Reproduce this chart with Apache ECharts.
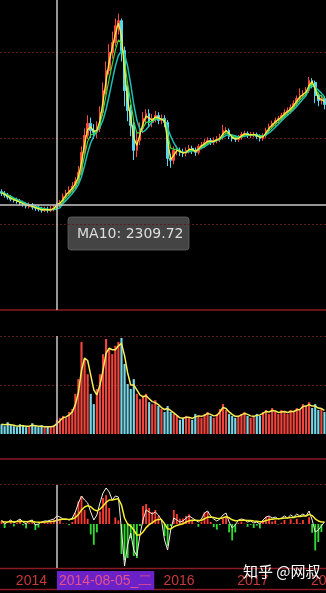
<!DOCTYPE html>
<html>
<head>
<meta charset="utf-8">
<script src="https://cdn.jsdelivr.net/npm/echarts@6.0.0/dist/echarts.min.js"></script>
<style>
  html, body { margin: 0; padding: 0; background: #000; }
  #kline { width: 326px; height: 593px; }
</style>
</head>
<body>
<div id="kline"></div>
<script>
const categories = [
  '2013-11-01','2013-11-16','2013-12-01','2013-12-16',
  '2014-01-01','2014-01-16','2014-02-01','2014-02-16','2014-03-01','2014-03-16','2014-04-01','2014-04-16',
  '2014-05-01','2014-05-16','2014-06-01','2014-06-16','2014-07-01','2014-07-16','2014-08-05','2014-08-16',
  '2014-09-01','2014-09-16','2014-10-01','2014-10-16','2014-11-01','2014-11-16','2014-12-01','2014-12-16',
  '2015-01-01','2015-01-16','2015-02-01','2015-02-16','2015-03-01','2015-03-16','2015-04-01','2015-04-16',
  '2015-05-01','2015-05-16','2015-06-01','2015-06-16','2015-07-01','2015-07-16','2015-08-01','2015-08-16',
  '2015-09-01','2015-09-16','2015-10-01','2015-10-16','2015-11-01','2015-11-16','2015-12-01','2015-12-16',
  '2016-01-01','2016-01-16','2016-02-01','2016-02-16','2016-03-01','2016-03-16','2016-04-01','2016-04-16',
  '2016-05-01','2016-05-16','2016-06-01','2016-06-16','2016-07-01','2016-07-16','2016-08-01','2016-08-16',
  '2016-09-01','2016-09-16','2016-10-01','2016-10-16','2016-11-01','2016-11-16','2016-12-01','2016-12-16',
  '2017-01-01','2017-01-16','2017-02-01','2017-02-16','2017-03-01','2017-03-16','2017-04-01','2017-04-16',
  '2017-05-01','2017-05-16','2017-06-01','2017-06-16','2017-07-01','2017-07-16','2017-08-01','2017-08-16',
  '2017-09-01','2017-09-16','2017-10-01','2017-10-16','2017-11-01','2017-11-16','2017-12-01','2017-12-16',
  '2018-01-01','2018-01-16','2018-02-01','2018-02-16','2018-03-01','2018-03-16'
];

const opens = [
  2520,2494,2461,2427,2394,2377,2360,2327,2310,2277,2294,2260,2243,2227,2210,2227,2210,2227,2243,2294,
  2327,2444,2494,2544,2611,2694,2845,3179,3463,3663,3546,3513,3579,3847,4214,4548,4849,5016,5300,5383,
  4882,4214,3880,3630,3212,3379,3579,3746,3830,3680,3746,3797,3713,3746,3680,3078,3045,3212,3212,3179,
  3162,3212,3245,3212,3179,3279,3296,3346,3379,3346,3379,3396,3429,3546,3546,3446,3412,3396,3429,3479,
  3496,3463,3479,3479,3446,3412,3463,3546,3613,3663,3713,3746,3797,3847,3880,3930,3997,4080,4130,4164,
  4214,4381,4348,4130,4047,4080
];
const closes = [
  2494,2461,2427,2394,2377,2360,2327,2310,2277,2294,2260,2243,2227,2210,2227,2210,2227,2243,2294,2327,
  2444,2494,2544,2611,2694,2845,3179,3463,3663,3546,3513,3579,3847,4214,4548,4849,5016,5300,5383,4882,
  4214,3880,3630,3212,3379,3579,3746,3830,3680,3746,3797,3713,3746,3680,3078,3045,3212,3212,3179,3162,
  3212,3245,3212,3179,3279,3296,3346,3379,3346,3379,3396,3429,3546,3546,3446,3412,3396,3429,3479,3496,
  3463,3479,3479,3446,3412,3463,3546,3613,3663,3713,3746,3797,3847,3880,3930,3997,4080,4130,4164,4214,
  4381,4348,4130,4047,4080,3980
];
const lows = [
  2450,2420,2390,2360,2340,2320,2290,2270,2240,2240,2220,2200,2190,2170,2180,2170,2180,2190,2210,2260,
  2300,2410,2450,2500,2570,2650,2800,3130,3400,3420,3400,3420,3520,3780,4150,4480,4750,4950,5150,4700,
  3950,3700,3450,3050,3100,3300,3500,3650,3600,3600,3680,3650,3650,3600,2950,2920,2980,3130,3120,3100,
  3110,3160,3150,3120,3140,3230,3250,3300,3300,3300,3330,3350,3390,3480,3400,3360,3350,3350,3390,3430,
  3420,3420,3430,3400,3360,3370,3420,3500,3570,3620,3670,3700,3750,3800,3830,3880,3950,4030,4080,4120,
  4170,4250,4000,3950,3980,3900
];
const highs = [
  2560,2530,2500,2460,2430,2420,2400,2370,2350,2340,2330,2300,2290,2270,2270,2270,2280,2300,2340,2380,
  2490,2550,2610,2680,2760,2950,3280,3580,3800,3760,3650,3700,3950,4350,4700,4990,5200,5420,5500,5420,
  4950,4300,3980,3700,3500,3680,3850,3900,3900,3820,3870,3850,3810,3800,3720,3150,3280,3290,3260,3240,
  3260,3300,3290,3260,3320,3350,3400,3430,3420,3430,3450,3490,3640,3600,3580,3480,3460,3470,3520,3540,
  3530,3520,3520,3510,3480,3500,3590,3660,3710,3760,3790,3840,3900,3930,3980,4050,4130,4250,4220,4270,
  4440,4420,4380,4180,4140,4120
];
const ma10 = [
  2500,2478,2444,2410,2386,2368,2344,2318,2294,2286,2277,2252,2235,2218,2218,2218,2218,2235,2309.72,2330,
  2390,2469,2519,2578,2652,2770,3012,3321,3563,3604,3530,3546,3713,4030,4381,4698,4932,5158,5341,5132,
  4548,4047,3755,3421,3296,3479,3662,3788,3755,3713,3771,3755,3730,3713,3379,3062,3128,3212,3196,3170,
  3178,3228,3228,3196,3229,3288,3321,3362,3362,3362,3388,3412,3488,3546,3496,3429,3404,3412,3454,3488,
  3480,3471,3479,3462,3429,3438,3504,3580,3638,3688,3730,3772,3822,3864,3905,3964,4038,4105,4147,4189,
  4298,4365,4239,4089,4064,4030
];
const ma30 = [
  2505,2484,2455,2425,2400,2380,2357,2333,2310,2296,2284,2264,2249,2233,2227,2222,2219,2228,2268,2290,
  2355,2420,2475,2535,2600,2700,2880,3130,3360,3470,3490,3540,3650,3870,4140,4410,4650,4890,5060,5010,
  4700,4330,4020,3700,3500,3510,3590,3680,3690,3700,3750,3748,3732,3720,3480,3250,3230,3230,3193,3175,
  3179,3210,3214,3200,3224,3266,3298,3336,3351,3361,3381,3403,3459,3505,3485,3450,3430,3426,3447,3469,
  3470,3470,3477,3466,3445,3446,3487,3542,3594,3644,3690,3738,3788,3832,3875,3930,3994,4057,4108,4157,
  4270,4328,4255,4155,4117,4070
];
const ma60 = [
  2510,2490,2465,2440,2415,2392,2370,2348,2325,2305,2290,2275,2262,2248,2236,2226,2220,2222,2232,2252,
  2325,2375,2430,2490,2555,2640,2770,2960,3170,3340,3450,3530,3600,3720,3900,4130,4380,4620,4800,4880,
  4820,4620,4320,3980,3720,3560,3520,3560,3620,3690,3730,3740,3735,3730,3590,3450,3340,3250,3190,3180,
  3180,3190,3200,3205,3220,3245,3275,3310,3340,3360,3375,3395,3430,3465,3475,3470,3455,3440,3440,3450,
  3460,3470,3475,3470,3460,3455,3470,3505,3550,3600,3650,3705,3755,3800,3845,3895,3950,4010,4070,4125,
  4245,4290,4270,4220,4170,4110
];
const volumes = [
  20,16,24,18,16,14,20,18,14,16,22,16,14,18,14,16,14,18,29,33,
  37,33,45,51,82,112,188,153,122,82,61,92,122,163,194,173,163,180,188,196,
  143,102,92,112,82,71,78,82,65,61,69,57,51,45,57,45,41,37,29,33,
  37,33,29,41,37,33,41,45,37,33,41,51,61,49,41,37,33,37,41,45,
  37,33,37,41,37,45,49,41,53,45,41,49,45,41,49,45,53,49,61,57,
  65,53,61,49,53,45
];
const volMa = [
  20,19,20,19,18,16,17,17,16,16,18,17,16,16,15,15,15,16,21,27,
  33,35,39,45,60,85,130,155,150,120,90,80,100,130,165,175,172,172,180,185,
  160,125,100,100,90,80,76,78,72,66,64,60,54,50,52,48,43,38,33,32,
  34,34,32,35,37,36,38,42,40,37,38,45,54,52,45,40,36,36,39,42,
  40,37,36,38,39,42,46,45,48,47,44,45,46,44,46,46,49,50,56,57,
  60,57,57,53,52,48
];
const dif = [
  20,0,10,20,5,15,25,10,0,15,20,-5,0,10,15,15,20,25,40,35,
  25,25,20,30,60,105,140,120,105,60,20,45,105,155,180,160,120,140,135,-30,
  -210,-105,-45,-130,-160,-55,20,70,60,50,60,45,20,-80,-130,-30,30,20,10,15,
  30,40,30,20,10,25,55,65,40,25,15,25,45,55,10,-20,-5,20,25,20,
  10,15,5,10,0,20,35,40,30,35,25,30,40,30,45,35,50,40,50,40,
  65,20,-40,-30,-10,10
];
const dea = [
  12,10,10,12,11,12,14,13,11,12,13,10,9,9,10,11,12,14,18,22,
  24,24,23,25,32,48,70,85,92,86,72,66,74,90,108,120,120,124,126,95,
  30,0,-10,-30,-55,-55,-40,-18,-3,7,18,23,22,2,-24,-25,-14,-7,-3,1,
  10,16,19,19,17,19,26,34,35,33,29,28,31,36,31,21,16,17,19,19,
  17,17,15,14,11,13,17,22,24,26,26,27,30,30,33,33,37,38,40,40,
  48,42,26,15,10,10
];
const macdHist = [
  16,-20,0,16,-12,6,22,-6,-22,6,14,-30,-18,2,10,8,16,22,44,26,
  2,2,-6,10,56,114,140,70,26,-52,-104,-42,62,130,144,80,0,32,18,-150,
  -180,-170,-70,-160,-170,-10,90,100,80,60,70,40,0,-60,-110,-10,70,50,26,28,
  40,48,22,2,-14,12,58,62,10,-16,-28,-6,28,38,-42,-82,-42,6,12,2,
  -14,-4,-20,-8,-22,14,36,36,12,18,-2,6,20,0,24,4,26,4,20,0,
  34,-44,-132,-90,-40,0
];

const crossIndex = 18;   // crosshair bar (2014-08-05)
const weekDays = ['日', '一', '二', '三', '四', '五', '六'];

const UP = '#ff4a3a';
const DOWN = '#58d8f0';
const SEP = '#8a1a24';
const DOT = '#5c1a1e';

const kData = opens.map((o, i) => [o, closes[i], lows[i], highs[i]]);

const chartDom = document.getElementById('kline');
const myChart = echarts.init(chartDom, null, { renderer: 'canvas' });

function hiddenX(gridIndex) {
  return {
    type: 'category', gridIndex: gridIndex, data: categories, boundaryGap: true,
    axisLine: { show: false }, axisTick: { show: false }, axisLabel: { show: false },
    splitLine: { show: false }
  };
}

const crossStyle = { color: '#c8c8c8', width: 1.5, type: 'solid' };

const option = {
  backgroundColor: '#000',
  animation: false,
  textStyle: { fontFamily: 'Liberation Sans' },
  grid: [
    { left: 0, right: 0, top: 0, height: 310, outerBoundsMode: 'none', containLabel: false },
    { left: 0, right: 0, top: 336, height: 98, outerBoundsMode: 'none', containLabel: false },
    { left: 0, right: 0, top: 484, height: 84, outerBoundsMode: 'none', containLabel: false }
  ],
  xAxis: [
    hiddenX(0),
    hiddenX(1),
    {
      type: 'category', gridIndex: 2, data: categories, boundaryGap: true,
      axisLine: { show: false }, axisTick: { show: false }, splitLine: { show: false },
      axisLabel: {
        show: true,
        margin: 3,
        align: 'left',
        hideOverlap: false,
        interval: function (index, value) {
          if (index === crossIndex) return true;
          if (index > crossIndex && index < crossIndex + 32) return false;
          return value.slice(5) === '01-01';
        },
        formatter: function (value, index) {
          if (index === crossIndex) {
            const p = value.split('-');
            const d = new Date(+p[0], +p[1] - 1, +p[2]);
            return '{hl|' + value + '_' + weekDays[d.getDay()] + '}';
          }
          return '{yr|' + value.slice(0, 4) + '}';
        },
        rich: {
          hl: { color: '#e8508a', backgroundColor: '#6a22c8', fontSize: 14, padding: [3, 2, 2, 2], fontFamily: 'Liberation Sans' },
          yr: { color: '#c83a3a', fontSize: 14, padding: [3, 0, 2, 2], fontFamily: 'Liberation Sans' }
        }
      }
    }
  ],
  yAxis: [
    {
      gridIndex: 0, min: 540, max: 5729, interval: 1440,
      axisLine: { show: false }, axisTick: { show: false }, axisLabel: { show: false },
      splitLine: { show: true, showMinLine: false, showMaxLine: false, lineStyle: { color: DOT, type: [2, 2] } }
    },
    {
      gridIndex: 1, min: 0, max: 200, interval: 100,
      axisLine: { show: false }, axisTick: { show: false }, axisLabel: { show: false },
      splitLine: { show: true, showMinLine: false, lineStyle: { color: DOT, type: [2, 2] } }
    },
    {
      gridIndex: 2, min: -220, max: 200,
      axisLine: { show: false }, axisTick: { show: false }, axisLabel: { show: false },
      splitLine: { show: false }
    }
  ],
  series: [
    {
      name: 'K', type: 'candlestick', xAxisIndex: 0, yAxisIndex: 0, data: kData,
      barWidth: '70%',
      itemStyle: { color: UP, color0: DOWN, borderColor: UP, borderColor0: DOWN, borderWidth: 1 },
      markLine: {
        symbol: 'none', silent: true, animation: false, label: { show: false },
        lineStyle: crossStyle,
        data: [{ xAxis: categories[crossIndex] }, { yAxis: ma10[crossIndex] }]
      }
    },
    {
      name: 'MA60', type: 'line', xAxisIndex: 0, yAxisIndex: 0, data: ma60,
      symbol: 'none', lineStyle: { color: '#1fbcb4', width: 1.5 }
    },
    {
      name: 'MA30', type: 'line', xAxisIndex: 0, yAxisIndex: 0, data: ma30,
      symbol: 'none', lineStyle: { color: '#3cd83c', width: 1.2 }
    },
    {
      name: 'MA10', type: 'line', xAxisIndex: 0, yAxisIndex: 0, data: ma10,
      symbol: 'none', lineStyle: { color: '#f4f040', width: 1.3 }
    },
    {
      name: 'VOL', type: 'bar', xAxisIndex: 1, yAxisIndex: 1, data: volumes,
      barWidth: '70%',
      itemStyle: {
        color: function (p) { return closes[p.dataIndex] >= opens[p.dataIndex] ? '#f0443c' : '#78d8e8'; }
      },
      markLine: {
        symbol: 'none', silent: true, animation: false, label: { show: false },
        lineStyle: crossStyle,
        data: [{ xAxis: categories[crossIndex] }]
      }
    },
    {
      name: 'VOLMA', type: 'line', xAxisIndex: 1, yAxisIndex: 1, data: volMa,
      symbol: 'none', lineStyle: { color: '#f4ee58', width: 1.5 }
    },
    {
      name: 'MACD', type: 'bar', xAxisIndex: 2, yAxisIndex: 2, data: macdHist,
      barWidth: '60%',
      itemStyle: {
        color: function (p) { return p.value >= 0 ? '#ff3a30' : '#30dc30'; }
      },
      markLine: {
        symbol: 'none', silent: true, animation: false, label: { show: false },
        data: [
          { xAxis: categories[crossIndex], lineStyle: crossStyle },
          { yAxis: 200, lineStyle: { color: DOT, width: 1, type: [2, 2] } }
        ]
      }
    },
    {
      name: 'DIF', type: 'line', xAxisIndex: 2, yAxisIndex: 2, data: dif,
      symbol: 'none', lineStyle: { color: '#f0f0e0', width: 1 }
    },
    {
      name: 'DEA', type: 'line', xAxisIndex: 2, yAxisIndex: 2, data: dea,
      symbol: 'none', lineStyle: { color: '#f4ee30', width: 1.5 }
    }
  ],
  graphic: [
    { type: 'line', shape: { x1: 0, y1: 310, x2: 326, y2: 310 }, style: { stroke: SEP, lineWidth: 1.5 }, silent: true },
    { type: 'line', shape: { x1: 0, y1: 459, x2: 326, y2: 459 }, style: { stroke: SEP, lineWidth: 1.5 }, silent: true },
    { type: 'line', shape: { x1: 0, y1: 568.5, x2: 326, y2: 568.5 }, style: { stroke: SEP, lineWidth: 1.5 }, silent: true },
    { type: 'line', shape: { x1: 0, y1: 589.5, x2: 326, y2: 589.5 }, style: { stroke: SEP, lineWidth: 1.5 }, silent: true },
    {
      type: 'group', x: 68, y: 217, silent: true,
      children: [
        { type: 'rect', shape: { x: 0, y: 0, width: 121, height: 33, r: 3 }, style: { fill: 'rgba(74,74,74,0.92)', stroke: 'rgba(100,100,100,0.8)', lineWidth: 1 } },
        { type: 'text', x: 9, y: 17, style: { text: 'MA10: ' + ma10[crossIndex].toFixed(2), fill: '#dedede', font: '14px "DejaVu Sans"', verticalAlign: 'middle' } }
      ]
    },
    {
      type: 'text', x: 243, y: 571, silent: true, z: 100,
      style: { text: '知乎 @网叔', fill: '#ffffff', font: '15px "Noto Sans CJK SC"', verticalAlign: 'middle' }
    }
  ]
};

myChart.setOption(option);
</script>
</body>
</html>
